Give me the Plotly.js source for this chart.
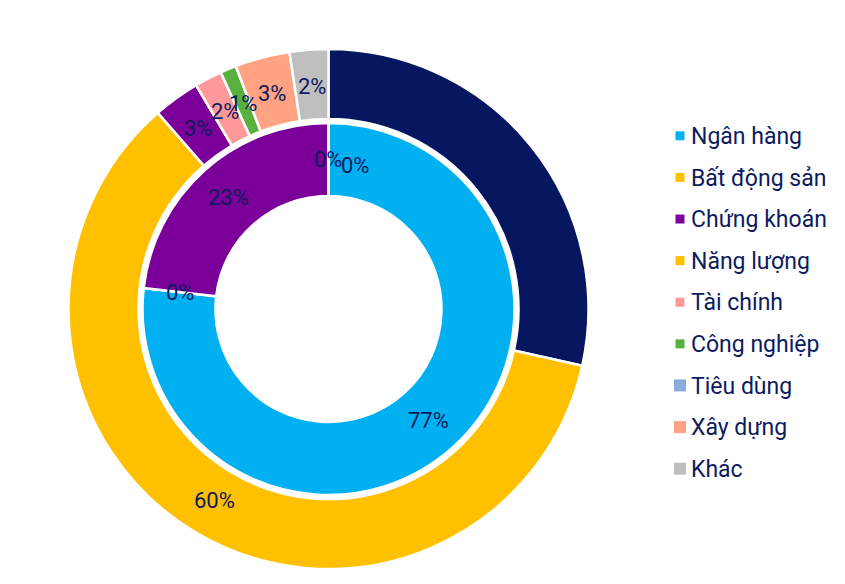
<!DOCTYPE html>
<html>
<head>
<meta charset="utf-8">
<script src="https://cdn.plot.ly/plotly-3.0.1.min.js"></script>
<style>
  html, body { margin: 0; padding: 0; background: #ffffff; }
  #chart { width: 845px; height: 584px; }
  .legend .legendtext { font-size: 23px !important; transform: translate(-9px, -3.5px); }
  .legend path.legendpie { stroke-width: 0 !important; }
  .legend .traces:nth-child(-n+6) path.legendpie { d: path('M4.5,4.5H-4.5V-4.5H4.5Z'); }
</style>
</head>
<body>
<div id="chart"></div>
<script>
// Categories (legend order)
const categories = ['Ngân hàng', 'Bất động sản', 'Chứng khoán', 'Năng lượng', 'Tài chính', 'Công nghiệp', 'Tiêu dùng', 'Xây dựng', 'Khác'];
// Outer ring shares (%)
const outerValues = [28.5, 60.1, 2.9, 0, 1.7, 1.0, 0, 3.4, 2.4];
// Inner ring shares (%)
const innerValues = [76.8, 0, 23.2, 0, 0, null, null, null, null];
// Labels not visible in the reference (dark text on the dark slice)
const outerHiddenLabels = ['Ngân hàng'];

const innerColors = ['#00B0F0', '#FFC000', '#7A0099', '#FFC000', '#FF9999', '#5AB03C', '#8EA9DB', '#FFA383', '#BFBFBF'];
const outerColors = ['#06175F', '#FFC000', '#7A0099', '#FFC000', '#FF9999', '#5AB03C', '#8EA9DB', '#FFA383', '#BFBFBF'];

const textColor = '#0D1B5E';
const fontFamily = 'Roboto, sans-serif';

const W = 845, H = 584;
const cx = 328.5, cy = 309;
const outerR = 260, outerHoleR = 190;
const innerR = 186, innerHoleR = 113;

function dom(r) {
  return {
    x: [(cx - r) / W, (cx + r) / W],
    y: [(H - cy - r) / H, (H - cy + r) / H]
  };
}

function pieTrace(values, colors, r, holeR) {
  return {
    type: 'pie',
    labels: categories,
    values: values,
    marker: { colors: colors, line: { color: '#ffffff', width: 2.5 } },
    hole: holeR / r,
    domain: dom(r),
    sort: false,
    direction: 'clockwise',
    rotation: 0,
    textinfo: 'none',
    hoverinfo: 'label+value'
  };
}

// Data labels at the middle of each ring, at each slice's mid angle (clockwise from 12 o'clock)
function ringLabels(values, rMid, hidden) {
  const total = values.reduce((s, v) => s + (v || 0), 0);
  const out = [];
  let cum = 0;
  const seen = {};
  values.forEach((v, i) => {
    if (v === null || v === undefined) return;
    const mid = cum + v / 2;
    cum += v;
    if (hidden.indexOf(categories[i]) !== -1) return;
    const theta = 2 * Math.PI * mid / total;
    const px = cx + rMid * Math.sin(theta);
    const py = cy - rMid * Math.cos(theta);
    const key = mid.toFixed(3);
    const k = seen[key] || 0;
    seen[key] = k + 1;
    out.push({
      x: px / W, y: 1 - py / H, xref: 'paper', yref: 'paper',
      xanchor: 'center', yanchor: 'middle', showarrow: false,
      xshift: 27 * k, yshift: -6 * k,
      text: Math.round(v) + '%',
      font: { family: fontFamily, size: 22, color: textColor }
    });
  });
  return out;
}

const inner = pieTrace(innerValues, innerColors, innerR, innerHoleR);
const outer = pieTrace(outerValues, outerColors, outerR, outerHoleR);

const annotations = ringLabels(innerValues, (innerR + innerHoleR) / 2, [])
  .concat(ringLabels(outerValues, (outerR + outerHoleR) / 2 - 2, outerHiddenLabels)
  .filter(a => a.text !== '0%'));

const layout = {
  width: W,
  height: H,
  margin: { l: 0, r: 0, t: 0, b: 0, autoexpand: false },
  paper_bgcolor: '#ffffff',
  showlegend: true,
  annotations: annotations,
  legend: {
    x: 660 / W,
    xanchor: 'left',
    y: 1 - 110 / H,
    yanchor: 'top',
    font: { family: fontFamily, size: 29.7, color: textColor },
    bgcolor: 'rgba(0,0,0,0)'
  }
};

Plotly.newPlot('chart', [inner, outer], layout, { displayModeBar: false, staticPlot: true });
</script>
</body>
</html>
